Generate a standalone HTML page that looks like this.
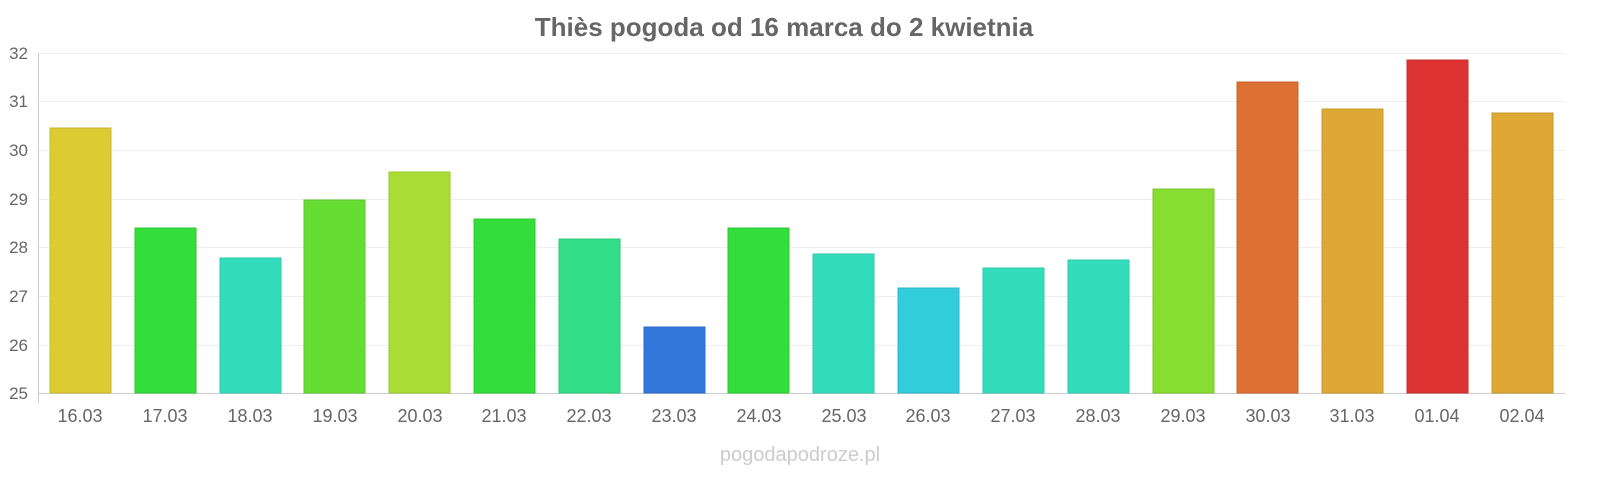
<!DOCTYPE html>
<html><head><meta charset="utf-8"><style>
html,body{margin:0;padding:0;background:#fff;}
svg text{font-family:"Liberation Sans",sans-serif;}
</style></head><body>
<svg width="1600" height="480" xmlns="http://www.w3.org/2000/svg">
<text x="784" y="36" text-anchor="middle" font-size="26" font-weight="bold" fill="#666">Thiès pogoda od 16 marca do 2 kwietnia</text>
<g stroke="#eee" stroke-width="1">
<line x1="38" x2="1565" y1="53.5" y2="53.5"/><line x1="38" x2="1565" y1="101.5" y2="101.5"/>
<line x1="38" x2="1565" y1="150.5" y2="150.5"/><line x1="38" x2="1565" y1="199.5" y2="199.5"/>
<line x1="38" x2="1565" y1="247.5" y2="247.5"/><line x1="38" x2="1565" y1="296.5" y2="296.5"/>
<line x1="38" x2="1565" y1="345.5" y2="345.5"/>
</g>
<line x1="38.5" x2="38.5" y1="53" y2="403" stroke="#ccc"/>
<line x1="38" x2="1565" y1="393.5" y2="393.5" stroke="#ccc"/>
<g font-size="17" fill="#666" text-anchor="end">
<text x="28" y="59">32</text><text x="28" y="107">31</text><text x="28" y="156">30</text>
<text x="28" y="205">29</text><text x="28" y="253">28</text><text x="28" y="302">27</text>
<text x="28" y="351">26</text><text x="28" y="399">25</text>
</g>
<g stroke-width="1">
<rect x="50" y="128" width="61" height="265" fill="#dccb33" stroke="#c8b82e"/>
<rect x="135" y="228" width="61" height="165" fill="#33dd3a" stroke="#2ec835"/>
<rect x="220" y="258" width="61" height="135" fill="#33ddbb" stroke="#2ec8a9"/>
<rect x="304" y="200" width="61" height="193" fill="#66dd33" stroke="#5cc82e"/>
<rect x="389" y="172" width="61" height="221" fill="#aadd33" stroke="#99c82e"/>
<rect x="474" y="219" width="61" height="174" fill="#33dd3a" stroke="#2ec835"/>
<rect x="559" y="239" width="61" height="154" fill="#33dd88" stroke="#2ec87a"/>
<rect x="644" y="327" width="61" height="66" fill="#3377dd" stroke="#2e6bc8"/>
<rect x="728" y="228" width="61" height="165" fill="#33dd3a" stroke="#2ec835"/>
<rect x="813" y="254" width="61" height="139" fill="#33ddbb" stroke="#2ec8a9"/>
<rect x="898" y="288" width="61" height="105" fill="#33ccdd" stroke="#2eb8c8"/>
<rect x="983" y="268" width="61" height="125" fill="#33ddbb" stroke="#2ec8a9"/>
<rect x="1068" y="260" width="61" height="133" fill="#33ddbb" stroke="#2ec8a9"/>
<rect x="1153" y="189" width="61" height="204" fill="#88dd33" stroke="#7ac82e"/>
<rect x="1237" y="82" width="61" height="311" fill="#dd7033" stroke="#c8652e"/>
<rect x="1322" y="109" width="61" height="284" fill="#dda833" stroke="#c8982e"/>
<rect x="1407" y="60" width="61" height="333" fill="#dd3333" stroke="#c82e2e"/>
<rect x="1492" y="113" width="61" height="280" fill="#dda833" stroke="#c8982e"/>
</g>
<g font-size="18" fill="#666" text-anchor="middle">
<text x="80" y="422">16.03</text><text x="165" y="422">17.03</text><text x="250" y="422">18.03</text>
<text x="335" y="422">19.03</text><text x="420" y="422">20.03</text><text x="504" y="422">21.03</text>
<text x="589" y="422">22.03</text><text x="674" y="422">23.03</text><text x="759" y="422">24.03</text>
<text x="844" y="422">25.03</text><text x="928" y="422">26.03</text><text x="1013" y="422">27.03</text>
<text x="1098" y="422">28.03</text><text x="1183" y="422">29.03</text><text x="1268" y="422">30.03</text>
<text x="1352" y="422">31.03</text><text x="1437" y="422">01.04</text><text x="1522" y="422">02.04</text>
</g>
<text x="800" y="461" text-anchor="middle" font-size="20" fill="#ccc">pogodapodroze.pl</text>
</svg>
</body></html>
